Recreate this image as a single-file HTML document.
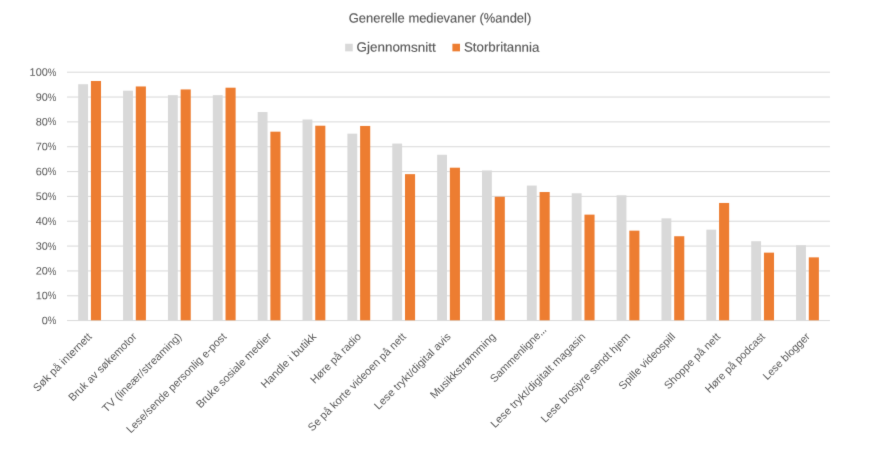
<!DOCTYPE html>
<html><head><meta charset="utf-8"><title>Generelle medievaner</title>
<style>html,body{margin:0;padding:0;background:#fff}svg{display:block}text{font-family:"Liberation Sans",sans-serif;fill:#595959}.b{stroke:#595959;stroke-width:0.15px}</style></head>
<body>
<svg width="880" height="450" viewBox="0 0 880 450">
<defs><filter id="soft" x="0" y="0" width="880" height="450" filterUnits="userSpaceOnUse" color-interpolation-filters="sRGB"><feConvolveMatrix order="3" kernelMatrix="0.01 0.07 0.01 0.07 0.68 0.07 0.01 0.07 0.01" edgeMode="duplicate" preserveAlpha="true"/></filter></defs>
<g filter="url(#soft)">
<rect width="880" height="450" fill="#fff"/>
<text transform="translate(56.4,324.20) rotate(0.03)" font-size="10.9" text-anchor="end"><tspan textLength="6.08" lengthAdjust="spacingAndGlyphs">0</tspan><tspan textLength="8.58" lengthAdjust="spacingAndGlyphs">%</tspan></text>
<rect x="67.0" y="295.21" width="763.0" height="1.1" fill="#dcdcdc"/>
<text transform="translate(56.4,299.36) rotate(0.03)" font-size="10.9" text-anchor="end"><tspan textLength="12.16" lengthAdjust="spacingAndGlyphs">10</tspan><tspan textLength="8.58" lengthAdjust="spacingAndGlyphs">%</tspan></text>
<rect x="67.0" y="270.37" width="763.0" height="1.1" fill="#dcdcdc"/>
<text transform="translate(56.4,274.52) rotate(0.03)" font-size="10.9" text-anchor="end"><tspan textLength="12.16" lengthAdjust="spacingAndGlyphs">20</tspan><tspan textLength="8.58" lengthAdjust="spacingAndGlyphs">%</tspan></text>
<rect x="67.0" y="245.53" width="763.0" height="1.1" fill="#dcdcdc"/>
<text transform="translate(56.4,249.68) rotate(0.03)" font-size="10.9" text-anchor="end"><tspan textLength="12.16" lengthAdjust="spacingAndGlyphs">30</tspan><tspan textLength="8.58" lengthAdjust="spacingAndGlyphs">%</tspan></text>
<rect x="67.0" y="220.69" width="763.0" height="1.1" fill="#dcdcdc"/>
<text transform="translate(56.4,224.84) rotate(0.03)" font-size="10.9" text-anchor="end"><tspan textLength="12.16" lengthAdjust="spacingAndGlyphs">40</tspan><tspan textLength="8.58" lengthAdjust="spacingAndGlyphs">%</tspan></text>
<rect x="67.0" y="195.85" width="763.0" height="1.1" fill="#dcdcdc"/>
<text transform="translate(56.4,200.00) rotate(0.03)" font-size="10.9" text-anchor="end"><tspan textLength="12.16" lengthAdjust="spacingAndGlyphs">50</tspan><tspan textLength="8.58" lengthAdjust="spacingAndGlyphs">%</tspan></text>
<rect x="67.0" y="171.01" width="763.0" height="1.1" fill="#dcdcdc"/>
<text transform="translate(56.4,175.16) rotate(0.03)" font-size="10.9" text-anchor="end"><tspan textLength="12.16" lengthAdjust="spacingAndGlyphs">60</tspan><tspan textLength="8.58" lengthAdjust="spacingAndGlyphs">%</tspan></text>
<rect x="67.0" y="146.17" width="763.0" height="1.1" fill="#dcdcdc"/>
<text transform="translate(56.4,150.32) rotate(0.03)" font-size="10.9" text-anchor="end"><tspan textLength="12.16" lengthAdjust="spacingAndGlyphs">70</tspan><tspan textLength="8.58" lengthAdjust="spacingAndGlyphs">%</tspan></text>
<rect x="67.0" y="121.33" width="763.0" height="1.1" fill="#dcdcdc"/>
<text transform="translate(56.4,125.48) rotate(0.03)" font-size="10.9" text-anchor="end"><tspan textLength="12.16" lengthAdjust="spacingAndGlyphs">80</tspan><tspan textLength="8.58" lengthAdjust="spacingAndGlyphs">%</tspan></text>
<rect x="67.0" y="96.49" width="763.0" height="1.1" fill="#dcdcdc"/>
<text transform="translate(56.4,100.64) rotate(0.03)" font-size="10.9" text-anchor="end"><tspan textLength="12.16" lengthAdjust="spacingAndGlyphs">90</tspan><tspan textLength="8.58" lengthAdjust="spacingAndGlyphs">%</tspan></text>
<rect x="67.0" y="71.65" width="763.0" height="1.1" fill="#dcdcdc"/>
<text transform="translate(56.4,75.80) rotate(0.03)" font-size="10.9" text-anchor="end"><tspan textLength="18.25" lengthAdjust="spacingAndGlyphs">100</tspan><tspan textLength="8.58" lengthAdjust="spacingAndGlyphs">%</tspan></text>
<rect x="67.0" y="320.10" width="763.0" height="0.95" fill="#d9d9d9"/>
<rect x="78.20" y="84.22" width="9.85" height="236.08" fill="#d9d9d9"/>
<rect x="90.92" y="80.99" width="10.1" height="239.31" fill="#ed7d31"/>
<rect x="123.07" y="90.68" width="9.85" height="229.62" fill="#d9d9d9"/>
<rect x="135.79" y="86.46" width="10.1" height="233.84" fill="#ed7d31"/>
<rect x="167.93" y="95.15" width="9.85" height="225.15" fill="#d9d9d9"/>
<rect x="180.65" y="89.44" width="10.1" height="230.86" fill="#ed7d31"/>
<rect x="212.80" y="95.15" width="9.85" height="225.15" fill="#d9d9d9"/>
<rect x="225.52" y="87.70" width="10.1" height="232.60" fill="#ed7d31"/>
<rect x="257.67" y="112.04" width="9.85" height="208.26" fill="#d9d9d9"/>
<rect x="270.39" y="131.67" width="10.1" height="188.63" fill="#ed7d31"/>
<rect x="302.53" y="119.50" width="9.85" height="200.80" fill="#d9d9d9"/>
<rect x="315.25" y="125.71" width="10.1" height="194.59" fill="#ed7d31"/>
<rect x="347.40" y="133.65" width="9.85" height="186.65" fill="#d9d9d9"/>
<rect x="360.12" y="125.95" width="10.1" height="194.35" fill="#ed7d31"/>
<rect x="392.27" y="143.59" width="9.85" height="176.71" fill="#d9d9d9"/>
<rect x="404.99" y="174.14" width="10.1" height="146.16" fill="#ed7d31"/>
<rect x="437.14" y="154.77" width="9.85" height="165.53" fill="#d9d9d9"/>
<rect x="449.86" y="167.69" width="10.1" height="152.61" fill="#ed7d31"/>
<rect x="482.00" y="170.42" width="9.85" height="149.88" fill="#d9d9d9"/>
<rect x="494.72" y="196.75" width="10.1" height="123.55" fill="#ed7d31"/>
<rect x="526.87" y="185.57" width="9.85" height="134.73" fill="#d9d9d9"/>
<rect x="539.59" y="192.03" width="10.1" height="128.27" fill="#ed7d31"/>
<rect x="571.74" y="193.27" width="9.85" height="127.03" fill="#d9d9d9"/>
<rect x="584.46" y="214.63" width="10.1" height="105.67" fill="#ed7d31"/>
<rect x="616.60" y="195.26" width="9.85" height="125.04" fill="#d9d9d9"/>
<rect x="629.32" y="230.65" width="10.1" height="89.65" fill="#ed7d31"/>
<rect x="661.47" y="218.36" width="9.85" height="101.94" fill="#d9d9d9"/>
<rect x="674.19" y="236.24" width="10.1" height="84.06" fill="#ed7d31"/>
<rect x="706.34" y="229.66" width="9.85" height="90.64" fill="#d9d9d9"/>
<rect x="719.06" y="202.96" width="10.1" height="117.34" fill="#ed7d31"/>
<rect x="751.21" y="241.21" width="9.85" height="79.09" fill="#d9d9d9"/>
<rect x="763.93" y="252.64" width="10.1" height="67.66" fill="#ed7d31"/>
<rect x="796.07" y="245.19" width="9.85" height="75.11" fill="#d9d9d9"/>
<rect x="808.79" y="257.36" width="10.1" height="62.94" fill="#ed7d31"/>
<text transform="translate(92.44,337.30) rotate(-45)" font-size="10.9" text-anchor="end" textLength="77.61" lengthAdjust="spacingAndGlyphs">Søk på internett</text>
<text transform="translate(137.32,337.30) rotate(-45)" font-size="10.9" text-anchor="end" textLength="91.28" lengthAdjust="spacingAndGlyphs">Bruk av søkemotor</text>
<text transform="translate(182.21,337.30) rotate(-45)" font-size="10.9" text-anchor="end" textLength="106.91" lengthAdjust="spacingAndGlyphs">TV (lineær/streaming)</text>
<text transform="translate(227.09,337.30) rotate(-45)" font-size="10.9" text-anchor="end" textLength="136.35" lengthAdjust="spacingAndGlyphs">Lese/sende personlig e-post</text>
<text transform="translate(271.97,337.30) rotate(-45)" font-size="10.9" text-anchor="end" textLength="101.19" lengthAdjust="spacingAndGlyphs">Bruke sosiale medier</text>
<text transform="translate(316.85,337.30) rotate(-45)" font-size="10.9" text-anchor="end" textLength="72.94" lengthAdjust="spacingAndGlyphs">Handle i butikk</text>
<text transform="translate(361.74,337.30) rotate(-45)" font-size="10.9" text-anchor="end" textLength="66.38" lengthAdjust="spacingAndGlyphs">Høre på radio</text>
<text transform="translate(406.62,337.30) rotate(-45)" font-size="10.9" text-anchor="end" textLength="133.45" lengthAdjust="spacingAndGlyphs">Se på korte videoen på nett</text>
<text transform="translate(451.50,337.30) rotate(-45)" font-size="10.9" text-anchor="end" textLength="103.10" lengthAdjust="spacingAndGlyphs">Lese trykt/digital avis</text>
<text transform="translate(496.38,337.30) rotate(-45)" font-size="10.9" text-anchor="end" textLength="87.61" lengthAdjust="spacingAndGlyphs">Musikkstrømming</text>
<text transform="translate(547.06,330.30) rotate(-45)" font-size="10.9" text-anchor="end"><tspan textLength="66.14" lengthAdjust="spacingAndGlyphs">Sammenligne</tspan><tspan font-size="12.5" stroke="#595959" stroke-width="0.25" textLength="8.29" lengthAdjust="spacingAndGlyphs">…</tspan></text>
<text transform="translate(586.15,337.30) rotate(-45)" font-size="10.9" text-anchor="end" textLength="128.97" lengthAdjust="spacingAndGlyphs">Lese trykt/digitalt magasin</text>
<text transform="translate(631.03,337.30) rotate(-45)" font-size="10.9" text-anchor="end" textLength="121.46" lengthAdjust="spacingAndGlyphs">Lese brosjyre sendt hjem</text>
<text transform="translate(675.91,337.30) rotate(-45)" font-size="10.9" text-anchor="end" textLength="74.80" lengthAdjust="spacingAndGlyphs">Spille videospill</text>
<text transform="translate(720.79,337.30) rotate(-45)" font-size="10.9" text-anchor="end" textLength="74.03" lengthAdjust="spacingAndGlyphs">Shoppe på nett</text>
<text transform="translate(765.68,337.30) rotate(-45)" font-size="10.9" text-anchor="end" textLength="79.54" lengthAdjust="spacingAndGlyphs">Høre på podcast</text>
<text transform="translate(810.56,337.30) rotate(-45)" font-size="10.9" text-anchor="end" textLength="61.24" lengthAdjust="spacingAndGlyphs">Lese blogger</text>
<text class="b" transform="translate(440,22.55) rotate(0.03)" font-size="13.2" text-anchor="middle" textLength="182.44" lengthAdjust="spacingAndGlyphs">Generelle medievaner (%andel)</text>
<rect x="345.15" y="43.75" width="7.6" height="7.6" fill="#d9d9d9"/>
<text class="b" transform="translate(356.6,51.6) rotate(0.03)" font-size="13.2" textLength="79.01" lengthAdjust="spacingAndGlyphs">Gjennomsnitt</text>
<rect x="452.4" y="43.75" width="7.6" height="7.6" fill="#ed7d31"/>
<text class="b" transform="translate(464,51.6) rotate(0.03)" font-size="13.2" textLength="75.35" lengthAdjust="spacingAndGlyphs">Storbritannia</text>
</g>
</svg>
</body></html>
